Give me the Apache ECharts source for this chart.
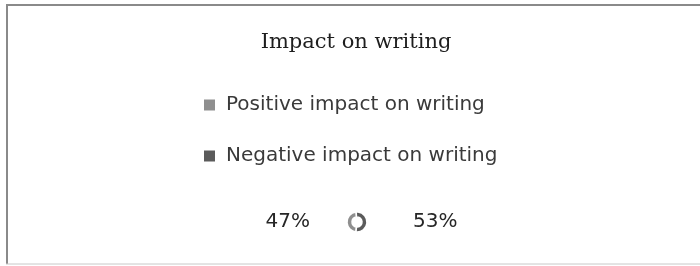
<!DOCTYPE html>
<html>
<head>
<meta charset="utf-8">
<script src="https://cdn.jsdelivr.net/npm/echarts@6/dist/echarts.min.js"></script>
<style>
  html, body { margin: 0; padding: 0; background: #fff; }
  #chart { width: 700px; height: 266px; }
</style>
</head>
<body>
<div id="chart"></div>
<script>
const categories = ['Positive impact on writing', 'Negative impact on writing'];
const shares = [47, 53];
const sliceColors = ['#8f8f8f', '#5b5b5b'];
// label spacing per slice (left label sits a bit closer to the ring)
const labelReach = [20, 29];

const chart = echarts.init(document.getElementById('chart'));

const option = {
    animation: false,
    color: sliceColors,
    title: {
        text: 'Impact on writing',
        left: 351,
        top: 27,
        textAlign: 'center',
        textStyle: {
            fontFamily: 'DejaVu Serif',
            fontWeight: 'normal',
            fontSize: 21,
            color: '#1e1e1e'
        }
    },
    legend: {
        orient: 'vertical',
        left: 202,
        top: 95,
        padding: 0,
        itemWidth: 13,
        itemHeight: 13,
        itemGap: 31,
        icon: 'rect',
        data: categories,
        textStyle: {
            fontFamily: 'DejaVu Sans',
            fontSize: 20,
            color: '#3a3a3a',
            padding: [0, 0, 0, 5]
        }
    },
    graphic: [
        {type: 'line', shape: {x1: 6, y1: 5, x2: 700, y2: 5}, style: {stroke: '#8a8a8a', lineWidth: 2}},
        {type: 'line', shape: {x1: 7, y1: 4, x2: 7, y2: 264}, style: {stroke: '#8a8a8a', lineWidth: 2}},
        {type: 'line', shape: {x1: 6, y1: 264, x2: 700, y2: 264}, style: {stroke: '#c8c8c8', lineWidth: 1}}
    ],
    series: [
        {
            type: 'pie',
            center: [357, 222],
            radius: [5, 10],
            startAngle: 95,
            clockwise: false,
            avoidLabelOverlap: false,
            itemStyle: {borderColor: '#fff', borderWidth: 1.5},
            label: {
                show: true,
                position: 'outside',
                formatter: '{c}%',
                fontFamily: 'DejaVu Sans',
                fontSize: 20,
                color: '#262626'
            },
            labelLine: {show: false, length: 12},
            data: categories.map((name, i) => ({
                name: name,
                value: shares[i],
                labelLine: {length2: labelReach[i]}
            }))
        }
    ]
};

chart.setOption(option);
</script>
</body>
</html>
